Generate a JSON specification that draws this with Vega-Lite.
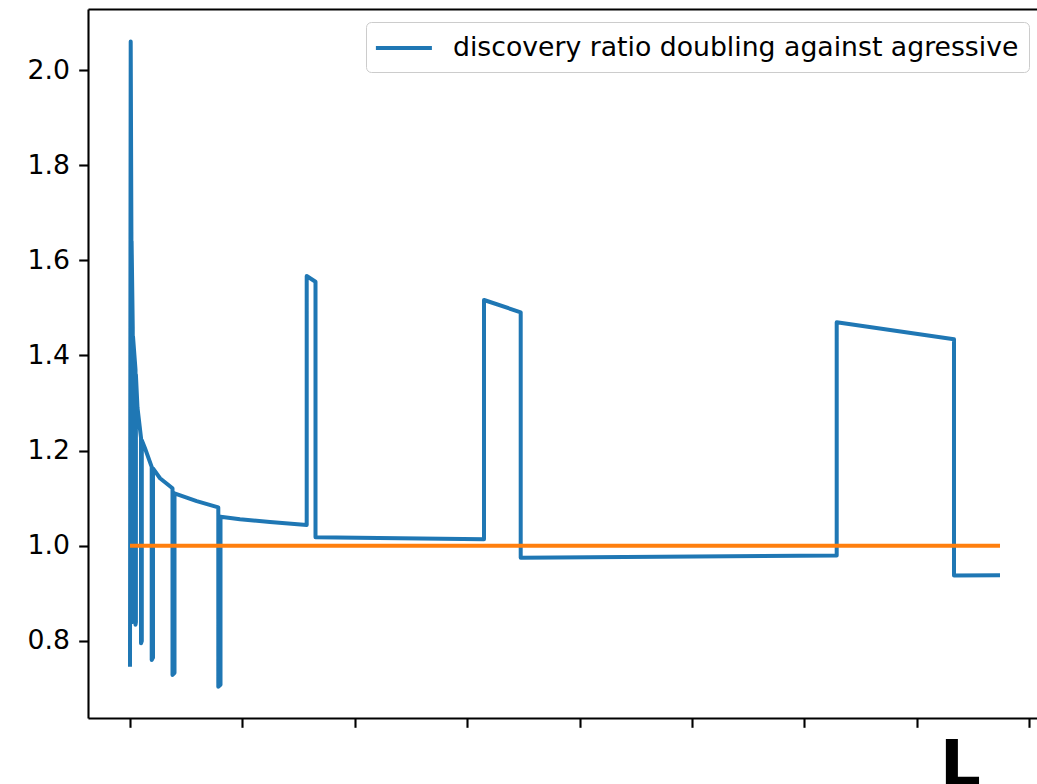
{
  "$schema": "https://vega.github.io/schema/vega-lite/v6.json",
  "width": 949,
  "height": 709,
  "autosize": {"type": "none"},
  "padding": {"left": 88, "top": 9, "right": 0, "bottom": 66},
  "background": "white",
  "config": {
    "view": {"stroke": null},
    "font": "DejaVu Sans",
    "axis": {
      "domainColor": "black",
      "domainWidth": 2.1,
      "tickColor": "black",
      "tickWidth": 2.1,
      "tickSize": 9.3,
      "labelFont": "DejaVu Sans",
      "labelFontSize": 26.7,
      "labelColor": "black",
      "labelPadding": 9.3,
      "grid": false
    }
  },
  "layer": [
    {
      "data": {
        "values": [
          {"i": 1, "L": 0.0, "ratio": 0.746, "series": "discovery ratio doubling against agressive"},
          {"i": 2, "L": 0.00623, "ratio": 2.06, "series": "discovery ratio doubling against agressive"},
          {"i": 3, "L": 0.01246, "ratio": 1.66, "series": "discovery ratio doubling against agressive"},
          {"i": 4, "L": 0.01246, "ratio": 0.84, "series": "discovery ratio doubling against agressive"},
          {"i": 5, "L": 0.01423, "ratio": 0.845, "series": "discovery ratio doubling against agressive"},
          {"i": 6, "L": 0.01423, "ratio": 1.64, "series": "discovery ratio doubling against agressive"},
          {"i": 7, "L": 0.02447, "ratio": 1.46, "series": "discovery ratio doubling against agressive"},
          {"i": 8, "L": 0.02447, "ratio": 0.84, "series": "discovery ratio doubling against agressive"},
          {"i": 9, "L": 0.02669, "ratio": 0.845, "series": "discovery ratio doubling against agressive"},
          {"i": 10, "L": 0.02669, "ratio": 1.44, "series": "discovery ratio doubling against agressive"},
          {"i": 11, "L": 0.04893, "ratio": 1.37, "series": "discovery ratio doubling against agressive"},
          {"i": 12, "L": 0.04893, "ratio": 0.834, "series": "discovery ratio doubling against agressive"},
          {"i": 13, "L": 0.05249, "ratio": 0.84, "series": "discovery ratio doubling against agressive"},
          {"i": 14, "L": 0.05249, "ratio": 1.36, "series": "discovery ratio doubling against agressive"},
          {"i": 15, "L": 0.06673, "ratio": 1.29, "series": "discovery ratio doubling against agressive"},
          {"i": 16, "L": 0.09786, "ratio": 1.227, "series": "discovery ratio doubling against agressive"},
          {"i": 17, "L": 0.09786, "ratio": 0.795, "series": "discovery ratio doubling against agressive"},
          {"i": 18, "L": 0.10498, "ratio": 0.8, "series": "discovery ratio doubling against agressive"},
          {"i": 19, "L": 0.10498, "ratio": 1.222, "series": "discovery ratio doubling against agressive"},
          {"i": 20, "L": 0.13345, "ratio": 1.205, "series": "discovery ratio doubling against agressive"},
          {"i": 21, "L": 0.19306, "ratio": 1.166, "series": "discovery ratio doubling against agressive"},
          {"i": 22, "L": 0.19306, "ratio": 0.76, "series": "discovery ratio doubling against agressive"},
          {"i": 23, "L": 0.20463, "ratio": 0.765, "series": "discovery ratio doubling against agressive"},
          {"i": 24, "L": 0.20463, "ratio": 1.1626, "series": "discovery ratio doubling against agressive"},
          {"i": 25, "L": 0.2669, "ratio": 1.142, "series": "discovery ratio doubling against agressive"},
          {"i": 26, "L": 0.37811, "ratio": 1.121, "series": "discovery ratio doubling against agressive"},
          {"i": 27, "L": 0.37811, "ratio": 0.7285, "series": "discovery ratio doubling against agressive"},
          {"i": 28, "L": 0.39591, "ratio": 0.733, "series": "discovery ratio doubling against agressive"},
          {"i": 29, "L": 0.39591, "ratio": 1.1103, "series": "discovery ratio doubling against agressive"},
          {"i": 30, "L": 0.59342, "ratio": 1.094, "series": "discovery ratio doubling against agressive"},
          {"i": 31, "L": 0.78559, "ratio": 1.0808, "series": "discovery ratio doubling against agressive"},
          {"i": 32, "L": 0.78559, "ratio": 0.704, "series": "discovery ratio doubling against agressive"},
          {"i": 33, "L": 0.80516, "ratio": 0.708, "series": "discovery ratio doubling against agressive"},
          {"i": 34, "L": 0.80516, "ratio": 1.0612, "series": "discovery ratio doubling against agressive"},
          {"i": 35, "L": 0.97865, "ratio": 1.0557, "series": "discovery ratio doubling against agressive"},
          {"i": 36, "L": 1.24555, "ratio": 1.05, "series": "discovery ratio doubling against agressive"},
          {"i": 37, "L": 1.57206, "ratio": 1.044, "series": "discovery ratio doubling against agressive"},
          {"i": 38, "L": 1.57206, "ratio": 1.567, "series": "discovery ratio doubling against agressive"},
          {"i": 39, "L": 1.65036, "ratio": 1.555, "series": "discovery ratio doubling against agressive"},
          {"i": 40, "L": 1.65036, "ratio": 1.018, "series": "discovery ratio doubling against agressive"},
          {"i": 41, "L": 3.14947, "ratio": 1.0137, "series": "discovery ratio doubling against agressive"},
          {"i": 42, "L": 3.14947, "ratio": 1.5166, "series": "discovery ratio doubling against agressive"},
          {"i": 43, "L": 3.47598, "ratio": 1.4908, "series": "discovery ratio doubling against agressive"},
          {"i": 44, "L": 3.47598, "ratio": 0.975, "series": "discovery ratio doubling against agressive"},
          {"i": 45, "L": 6.28737, "ratio": 0.9796, "series": "discovery ratio doubling against agressive"},
          {"i": 46, "L": 6.28737, "ratio": 1.4697, "series": "discovery ratio doubling against agressive"},
          {"i": 47, "L": 7.33096, "ratio": 1.434, "series": "discovery ratio doubling against agressive"},
          {"i": 48, "L": 7.33096, "ratio": 0.9375, "series": "discovery ratio doubling against agressive"},
          {"i": 49, "L": 7.74021, "ratio": 0.938, "series": "discovery ratio doubling against agressive"}
        ]
      },
      "mark": {"type": "line", "strokeWidth": 4, "strokeJoin": "round", "strokeCap": "butt"},
      "encoding": {
        "x": {
          "field": "L",
          "type": "quantitative",
          "scale": {"domain": [-0.37367, 8.0694], "nice": false, "zero": false},
          "axis": {
            "values": [0, 1, 2, 3, 4, 5, 6, 7, 8],
            "labels": false,
            "title": "L",
            "titleFont": "DejaVu Sans",
            "titleFontSize": 64,
            "titleFontWeight": "bold",
            "titleColor": "black",
            "titleX": 872,
            "titleY": 67,
            "titleAlign": "center",
            "titleBaseline": "alphabetic"
          }
        },
        "y": {
          "field": "ratio",
          "type": "quantitative",
          "scale": {"domain": [0.63815, 2.1282], "nice": false, "zero": false},
          "axis": {"values": [0.8, 1.0, 1.2, 1.4, 1.6, 1.8, 2.0], "format": ".1f", "title": null}
        },
        "color": {
          "field": "series",
          "type": "nominal",
          "scale": {"range": ["#1f77b4"]},
          "legend": {
            "title": null,
            "orient": "none",
            "legendX": 278,
            "legendY": 13,
            "symbolType": "M-1.15,0H2.85",
            "symbolStrokeWidth": 4,
            "symbolSize": 784,
            "labelFont": "DejaVu Sans",
            "labelFontSize": 26.7,
            "labelColor": "black",
            "labelOffset": 45,
            "labelLimit": 1000,
            "padding": 10,
            "strokeColor": "#cccccc",
            "fillColor": "white",
            "cornerRadius": 5
          }
        },
        "order": {"field": "i", "type": "quantitative"}
      }
    },
    {
      "data": {
        "values": [
          {"L": 0.0, "ratio": 1.0},
          {"L": 7.74021, "ratio": 1.0}
        ]
      },
      "mark": {"type": "line", "color": "#ff7f0e", "strokeWidth": 4, "strokeCap": "butt"},
      "encoding": {
        "x": {
          "field": "L",
          "type": "quantitative",
          "axis": {"orient": "top", "labels": false, "ticks": false, "title": null, "domain": true}
        },
        "y": {"field": "ratio", "type": "quantitative"}
      }
    }
  ],
  "resolve": {"axis": {"x": "independent"}}
}
